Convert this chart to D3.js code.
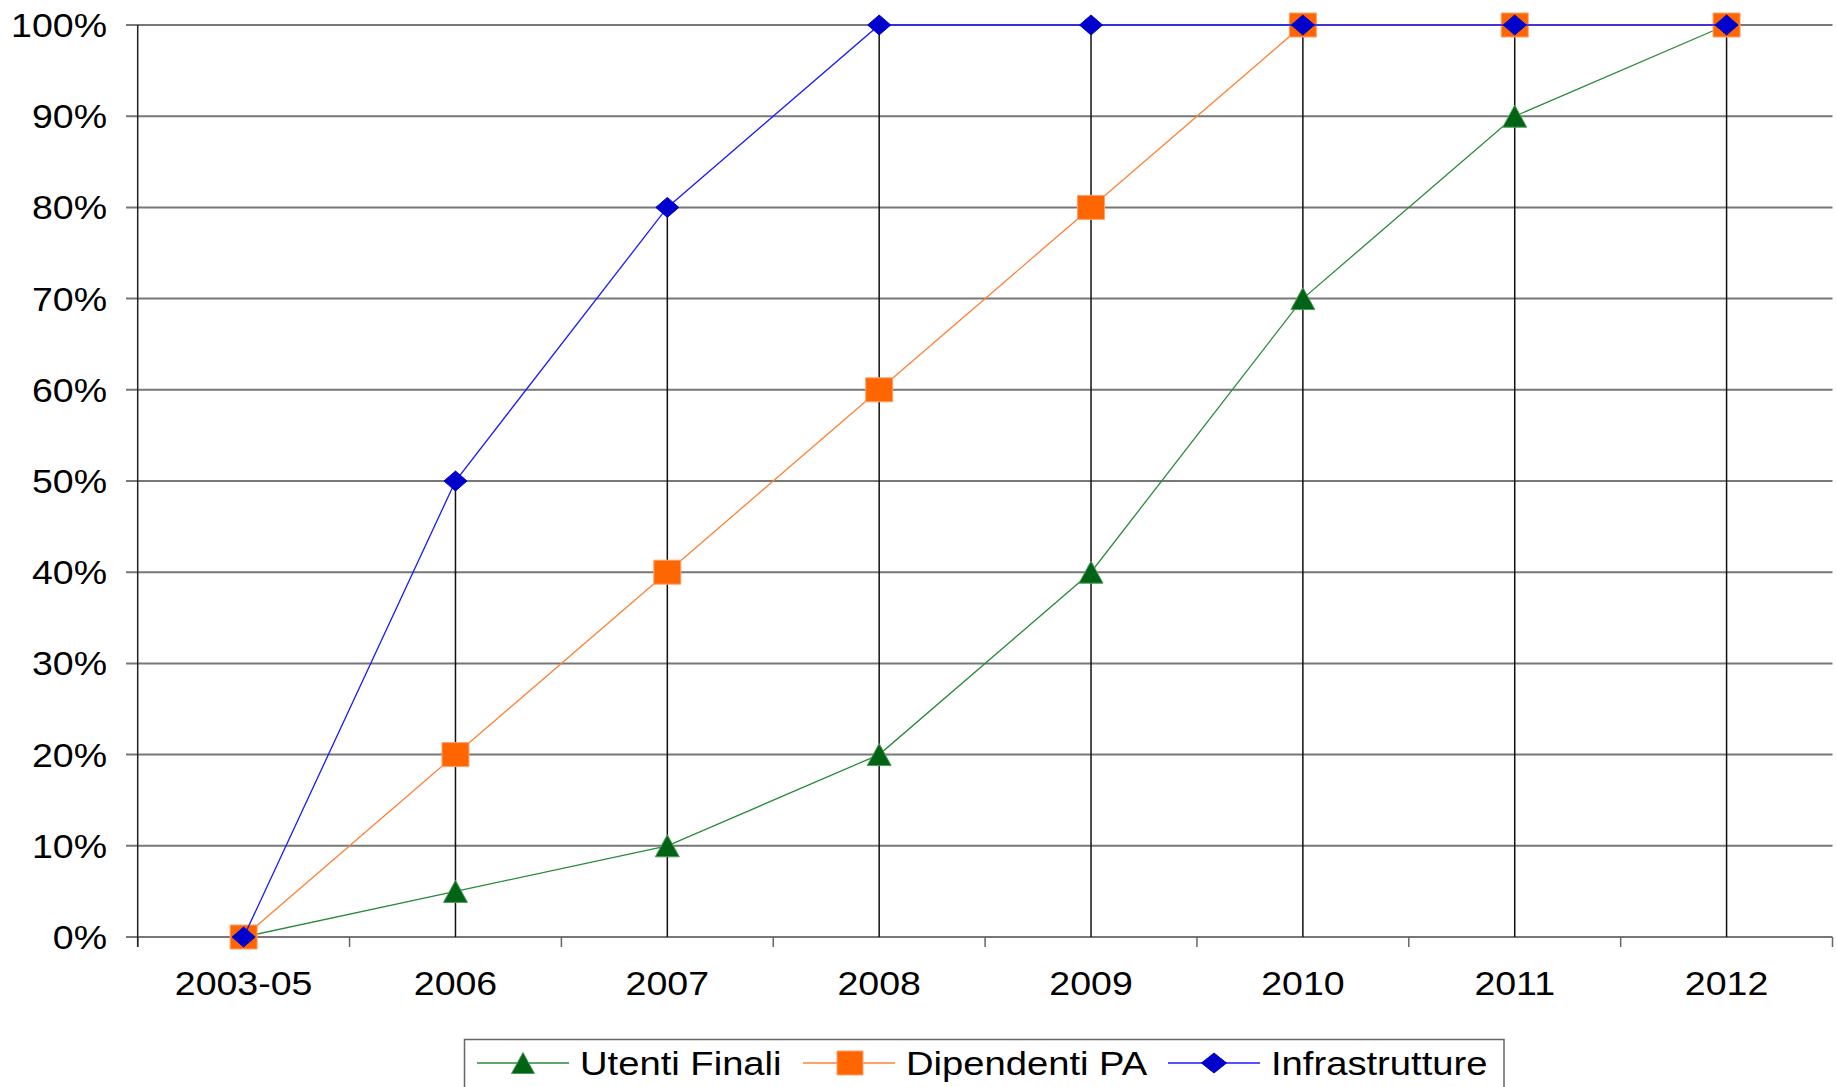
<!DOCTYPE html>
<html>
<head>
<meta charset="utf-8">
<script src="https://cdn.jsdelivr.net/npm/d3@7"></script>
<style>
  html, body { margin: 0; padding: 0; background: #fff; }
  svg { display: block; }
  text { font-family: "Liberation Sans", Arial, sans-serif; fill: #000; }
</style>
</head>
<body>
<svg id="chart" width="1837" height="1087"></svg>
<script>
// ---- data ----
const categories = ["2003-05", "2006", "2007", "2008", "2009", "2010", "2011", "2012"];
const utentiFinali = [0, 0.05, 0.10, 0.20, 0.40, 0.70, 0.90, 1.00];
const dipendentiPA = [0, 0.20, 0.40, 0.60, 0.80, 1.00, 1.00, 1.00];
const infrastrutture = [0, 0.50, 0.80, 1.00, 1.00, 1.00, 1.00, 1.00];
const yTicks = [0, 0.1, 0.2, 0.3, 0.4, 0.5, 0.6, 0.7, 0.8, 0.9, 1.0];
const seriesNames = ["Utenti Finali", "Dipendenti PA", "Infrastrutture"];

(function () {
const series = [
  { name: seriesNames[0], values: utentiFinali, line: "#2a8a3a", fill: "#006414", stroke: "#4f9a5a", shape: "triangle" },
  { name: seriesNames[1], values: dipendentiPA, line: "#ff8033", fill: "#ff6600", stroke: "#ffa070", shape: "square" },
  { name: seriesNames[2], values: infrastrutture, line: "#1a1aff", fill: "#0000cc", stroke: "#0000cc", shape: "diamond" }
];

const svg = d3.select("#chart");
const pLeft = 137.7, pRight = 1832.5, pTop = 25, pBottom = 937;
const sx = 1.12; // horizontal stretch of the original picture
const fontSize = 33.5;

const x = d3.scaleBand().domain(categories).range([pLeft, pRight]).paddingInner(0).paddingOuter(0);
const y = d3.scaleLinear().domain([0, 1]).range([pBottom, pTop]);
const cx = c => x(c) + x.bandwidth() / 2;

// gridlines + y ticks
svg.append("g").selectAll("line").data(yTicks).join("line")
  .attr("x1", 126).attr("x2", pRight)
  .attr("y1", d => y(d)).attr("y2", d => y(d))
  .attr("stroke", "#777").attr("stroke-width", 2);

// y labels
const fmt = d3.format(".0%");
svg.append("g").selectAll("text").data(yTicks).join("text")
  .attr("transform", d => `translate(107,${y(d) + 12}) scale(${sx},1)`)
  .attr("text-anchor", "end")
  .style("font-size", fontSize + "px")
  .text(d => fmt(d));

// x axis tick marks at category boundaries
const bounds = categories.map(c => x(c)).concat([pRight]);
svg.append("g").selectAll("line").data(bounds).join("line")
  .attr("x1", d => d).attr("x2", d => d)
  .attr("y1", pBottom).attr("y2", pBottom + 10)
  .attr("stroke", "#666").attr("stroke-width", 1.5);

// y axis line
svg.append("line")
  .attr("x1", pLeft).attr("x2", pLeft).attr("y1", pTop).attr("y2", pBottom + 10)
  .attr("stroke", "#222").attr("stroke-width", 1.5);

// x labels
svg.append("g").selectAll("text").data(categories).join("text")
  .attr("transform", d => `translate(${cx(d)},995) scale(${sx},1)`)
  .attr("text-anchor", "middle")
  .style("font-size", fontSize + "px")
  .text(d => d);

// drop lines from highest value down to the axis
const maxVals = categories.map((c, i) => d3.max(series, s => s.values[i]));
svg.append("g").selectAll("line").data(categories).join("line")
  .attr("x1", d => cx(d)).attr("x2", d => cx(d))
  .attr("y1", (d, i) => y(maxVals[i])).attr("y2", pBottom)
  .attr("stroke", "#111").attr("stroke-width", 1.5);

// marker shape paths
function markerPath(shape, w, h) {
  if (shape === "square") return `M${-w/2},${-h/2}h${w}v${h}h${-w}Z`;
  if (shape === "diamond") return `M0,${-h/2}L${w/2},0L0,${h/2}L${-w/2},0Z`;
  return `M0,${-h/2}L${w/2},${h/2}L${-w/2},${h/2}Z`;
}
const markerSize = { square: [27, 24], diamond: [23, 20], triangle: [24, 22] };

const lineGen = d3.line().x((d, i) => cx(categories[i])).y(d => y(d));

series.forEach(s => {
  const g = svg.append("g");
  g.append("path").datum(s.values)
    .attr("d", lineGen)
    .attr("fill", "none").attr("stroke", s.line).attr("stroke-width", 1.3);
  const [w, h] = markerSize[s.shape];
  g.selectAll("path.m").data(s.values).join("path")
    .attr("class", "m")
    .attr("transform", (d, i) => `translate(${cx(categories[i])},${y(d)})`)
    .attr("d", markerPath(s.shape, w, h))
    .attr("fill", s.fill).attr("stroke", s.stroke).attr("stroke-width", 1);
});

// legend
const legend = svg.append("g");
legend.append("rect")
  .attr("x", 464.5).attr("y", 1039.5).attr("width", 1039.5).attr("height", 60)
  .attr("fill", "#fff").attr("stroke", "#666").attr("stroke-width", 1.5);

const legendItems = [
  { s: series[0], x1: 477, x2: 569, mx: 523, tx: 580, size: [23, 21] },
  { s: series[1], x1: 803, x2: 895, mx: 850, tx: 906, size: [26, 24] },
  { s: series[2], x1: 1168, x2: 1260, mx: 1214, tx: 1271, size: [25, 20] }
];
const ly = 1063;
legendItems.forEach(it => {
  legend.append("line")
    .attr("x1", it.x1).attr("x2", it.x2).attr("y1", ly).attr("y2", ly)
    .attr("stroke", it.s.line).attr("stroke-width", 1.3);
  legend.append("path")
    .attr("transform", `translate(${it.mx},${ly})`)
    .attr("d", markerPath(it.s.shape, it.size[0], it.size[1]))
    .attr("fill", it.s.fill).attr("stroke", it.s.stroke).attr("stroke-width", 1);
  legend.append("text")
    .attr("transform", `translate(${it.tx},${ly + 12}) scale(1.14,1)`)
    .style("font-size", fontSize + "px")
    .text(it.s.name);
});
})();
</script>
</body>
</html>
